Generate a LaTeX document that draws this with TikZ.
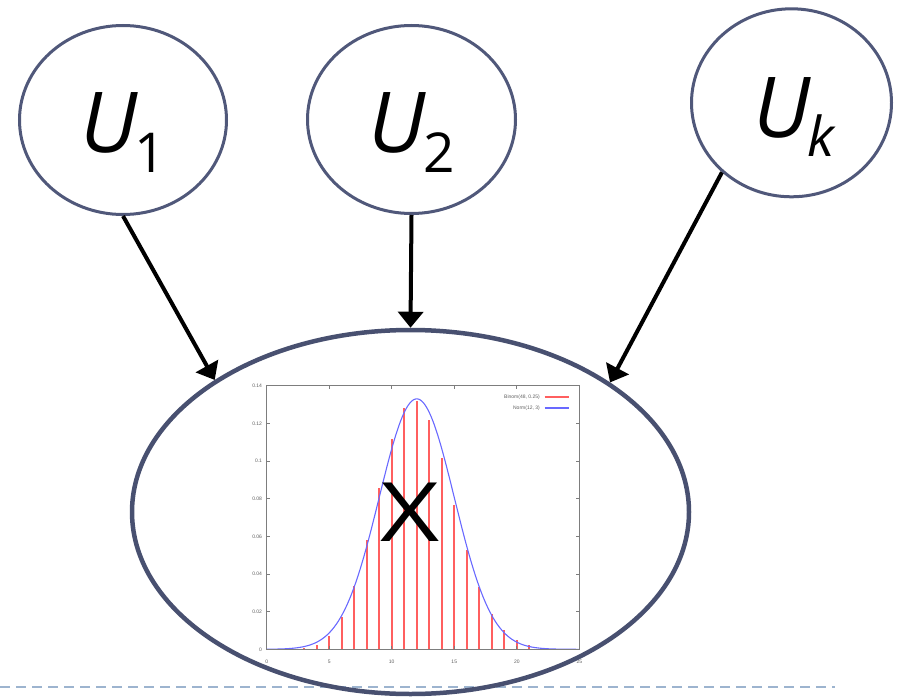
\documentclass[tikz,border=0pt]{standalone}
\usepackage{fontspec}
\setmainfont{Open Sans}
\newfontfamily\plotfont{Liberation Sans}
\usetikzlibrary{shapes.geometric,arrows.meta}
\definecolor{ucol}{RGB}{80,88,122}
\definecolor{xcol}{RGB}{72,80,112}
\definecolor{dashcol}{RGB}{157,180,207}
\definecolor{barcol}{RGB}{255,95,95}
\definecolor{curvecol}{RGB}{105,105,255}
\definecolor{framecol}{RGB}{125,125,125}
\definecolor{labcol}{RGB}{95,95,95}
\begin{document}
\begin{tikzpicture}[x=1pt,y=-1pt,
  ucirc/.style={ellipse, draw=ucol, line width=3pt, inner sep=0pt},
  xell/.style={ellipse, draw=xcol, line width=4.5pt, inner sep=0pt,
    minimum width=557pt, minimum height=364pt,
    font=\fontsize{82pt}{82pt}\selectfont},
  ulab/.style={anchor=base west, inner sep=0pt,
    font=\fontsize{84pt}{84pt}\selectfont\itshape},
  arr/.style={-{Triangle[length=16pt,width=25pt]}, line width=4pt, black},
  frame/.style={draw=framecol, line width=1.1pt},
  tick/.style={draw=framecol, line width=0.8pt},
  ticklab/.style={text=labcol, inner sep=0pt, font=\plotfont\fontsize{5pt}{5pt}\selectfont},
  bar/.style={draw=barcol, line width=1.8pt},
  curve/.style={draw=curvecol, line width=1.1pt},
  dashline/.style={draw=dashcol, line width=2pt, dash pattern=on 10pt off 6pt}]
\useasboundingbox (0,0) rectangle (897,698);
% dashed rule
\coordinate (dl) at (0,687);
\coordinate (dr) at (835,687);
\draw[dashline] (dl) -- (dr);
% bars
\foreach \k/\p in {1/0.0000161,2/0.0001261,3/0.0006445,4/0.002417,5/0.007090,
    6/0.016937,7/0.033874,8/0.057868,9/0.085730,10/0.111449,11/0.128335,
    12/0.131900,13/0.121754,14/0.101462,15/0.076660,16/0.052704,17/0.033069,
    18/0.018984,19/0.009992,20/0.004829,21/0.002146,22/0.000878,23/0.000331}{
  \pgfmathsetmacro\bx{266.7+12.504*\k}
  \pgfmathsetmacro\by{649.3-1882.9*\p}
  \draw[bar] (\bx,649.3) -- (\bx,\by);
}
% plot
\begin{scope}[shift={(266.7,649.3)}, x=12.504pt, y=1882.9pt]
  \draw[curve] plot[domain=0:25, samples=200, smooth, variable=\t]
    (\t, {exp(-(\t-12)*(\t-12)/18)/(3*sqrt(2*pi))});
  \foreach \y/\l in {0/0,0.02/0.02,0.04/0.04,0.06/0.06,0.08/0.08,0.1/0.1,0.12/0.12,0.14/0.14}{
    \draw[tick] (0,\y) -- ++(3pt,0pt);
    \draw[tick] (25,\y) -- ++(-3pt,0pt);
    \node[ticklab, anchor=east] at ([xshift=-4.5pt]0,\y) {\l};
  }
  \foreach \x in {0,5,10,15,20,25}{
    \draw[tick] (\x,0) -- ++(0pt,3pt);
    \draw[tick] (\x,0.14) -- ++(0pt,-3pt);
    \node[ticklab] at ([yshift=-12pt]\x,0) {\x};
  }
  \draw[frame] (0,0) rectangle (25,0.14);
\end{scope}
% legend
\node[ticklab, anchor=east] (lg1) at (540,397) {Binom(48, 0.25)};
\node[ticklab, anchor=east] (lg2) at (540,408) {Norm(12, 3)};
\coordinate (lg1a) at (544.5,397); \coordinate (lg1b) at (569.3,397);
\coordinate (lg2a) at (544.5,408); \coordinate (lg2b) at (569.3,408);
\draw[bar, line width=1.5pt] (lg1a) -- (lg1b);
\draw[curve, line width=1.2pt] (lg2a) -- (lg2b);
% nodes
\node[xell] (X) at (410.5,512) {\scalebox{1.25}[1]{X}};
\node[ucirc, minimum width=207pt, minimum height=189pt] (U1) at (123,120) {};
\node[ucirc, minimum width=208pt, minimum height=188pt] (U2) at (411.5,119.5) {};
\node[ucirc, minimum width=200pt, minimum height=188pt] (Uk) at (791.5,102.8) {};
\node[ulab] (U1lab) at (80,153) {U\kern-3pt\raisebox{-20pt}{\upshape\fontsize{55pt}{55pt}\selectfont 1}};
\node[ulab] (U2lab) at (368,153) {U\kern-2pt\raisebox{-20pt}{\upshape\fontsize{55pt}{55pt}\selectfont 2}};
\node[ulab] (Uklab) at (753,138) {U\kern-3pt\raisebox{-19pt}{\fontsize{55pt}{55pt}\selectfont k}};
% arrows
\draw[arr] (U1.south) -- (X.146.7);
\draw[arr] (U2.south) -- (X.north);
\draw[arr] (Uk.225) -- (X.33.4);
\end{tikzpicture}
\end{document}
